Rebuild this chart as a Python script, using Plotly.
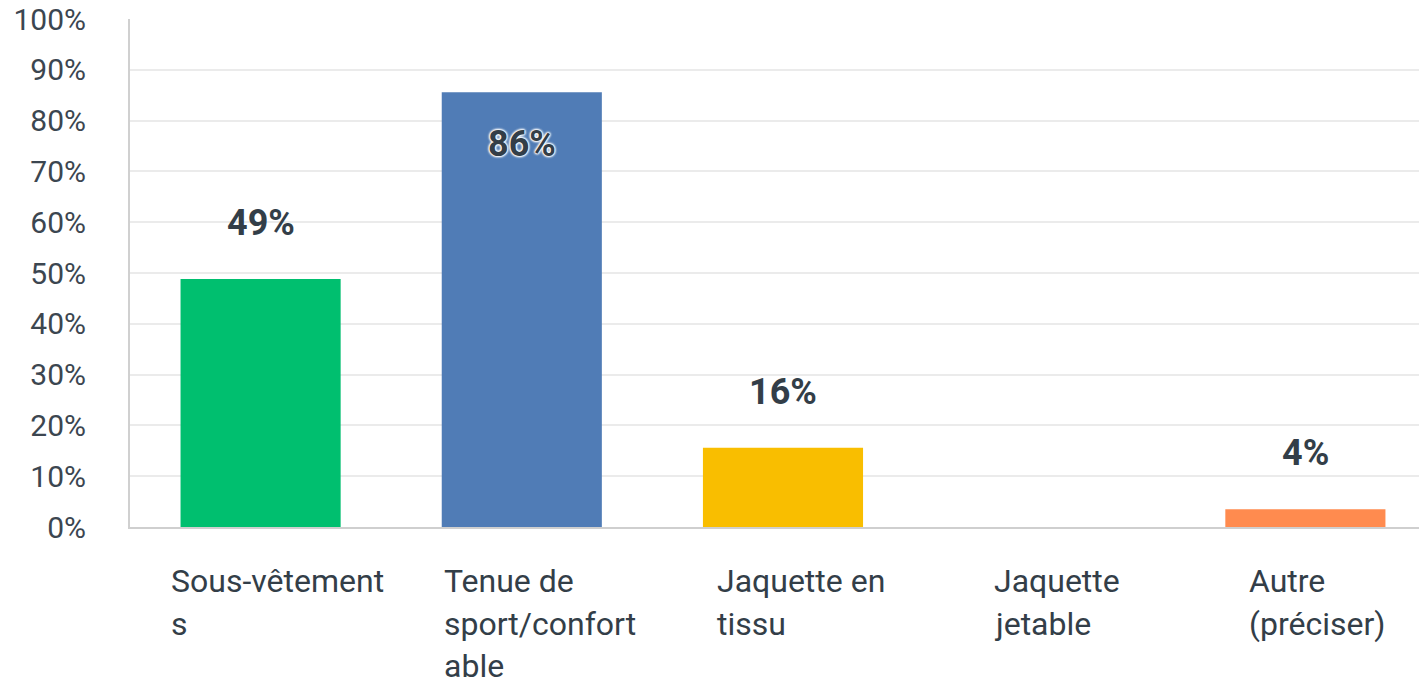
import plotly.graph_objects as go

categories = ["Sous-vêtements", "Tenue de sport/confortable", "Jaquette en tissu", "Jaquette jetable", "Autre (préciser)"]
category_lines = [
    ["Sous-vêtement", "s"],
    ["Tenue de", "sport/confort", "able"],
    ["Jaquette en", "tissu"],
    ["Jaquette", "jetable"],
    ["Autre", "(préciser)"],
]
values = [48.8, 85.6, 15.6, 0.0, 3.5]
value_labels = ["49%", "86%", "16%", "", "4%"]
colors = ["#00bf6f", "#507cb6", "#f9be00", "#6bc8cd", "#ff8b4f"]
tick_vals = [0, 10, 20, 30, 40, 50, 60, 70, 80, 90, 100]
tick_text = ["0%", "10%", "20%", "30%", "40%", "50%", "60%", "70%", "80%", "90%", "100%"]

FONT = "Roboto"
TXT = "#333e48"

fig = go.Figure()
fig.add_trace(go.Bar(
    x=categories, y=values, marker=dict(color=colors, line=dict(width=0)),
    width=0.613, hoverinfo="skip",
))

annotations = []
label_shift = [56, -52, 56, 56, 56]
for i, (c, v, t) in enumerate(zip(categories, values, value_labels)):
    if not t:
        continue
    font = dict(family=FONT, size=36, color=TXT, weight="bold")
    if label_shift[i] < 0:
        font["shadow"] = ("0 0 3px #fff, 0 0 3px #fff, 0 0 3px #fff, "
                          "0 0 2px #fff, 0 0 2px #fff, 0 0 1px #fff")
    annotations.append(dict(
        x=c, y=v, xref="x", yref="y", text=t, showarrow=False,
        xanchor="center", yanchor="middle", yshift=label_shift[i], font=font,
    ))

line_xshift = [-92, -80, -68, -52, -58]
for i, (c, lines) in enumerate(zip(categories, category_lines)):
    for j, ln in enumerate(lines):
        annotations.append(dict(
            x=c, y=0, xref="x", yref="paper", text=ln, showarrow=False,
            xanchor="left", yanchor="middle", xshift=line_xshift[i],
            yshift=-(54 + 42.5 * j),
            font=dict(family=FONT, size=32, color=TXT),
        ))

fig.update_layout(
    width=1419, height=679,
    margin=dict(l=130, r=0, t=19, b=152),
    paper_bgcolor="white", plot_bgcolor="white",
    showlegend=False,
    annotations=annotations,
    xaxis=dict(
        range=[-0.5, 4.435], showticklabels=False, showgrid=False,
        showline=True, linecolor="#cfcfcf", linewidth=2, ticks="", zeroline=False,
        fixedrange=True,
    ),
    yaxis=dict(
        range=[0, 100], tickvals=tick_vals, ticktext=tick_text,
        showgrid=True, gridcolor="#ebebeb", gridwidth=2,
        showline=True, linecolor="#d0d0d0", linewidth=2, zeroline=False,
        ticks="", ticklabelstandoff=36,
        tickfont=dict(family=FONT, size=30, color="#3c4650"),
        fixedrange=True,
    ),
)

fig.write_html(
    "out.html",
    config={"displayModeBar": False},
    post_script="document.body.style.margin='0';document.body.style.overflow='hidden';",
)
